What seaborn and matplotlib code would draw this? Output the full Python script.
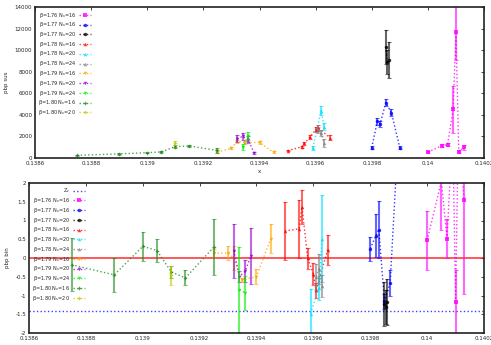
import numpy as np
import pandas as pd
import matplotlib
matplotlib.use("Agg")
import matplotlib.pyplot as plt
import seaborn as sns

# beta=1.76 Ns=16
x_176_16 = [0.14, 0.14005, 0.14007, 0.14009, 0.1401, 0.14011, 0.14013]
sus_176_16 = [535, 1155, 1220, 4500, 11700, 590, 1000]
sus_err_176_16 = [80, 150, 130, 2200, 2600, 150, 250]
bin_176_16 = [0.47, 2.05, 0.52, 3.5, -1.17, 3.5, 1.54]
bin_err_176_16 = [0.78, 1.3, 0.53, 0.5, 0.85, 0.5, 2.5]

# beta=1.77 Ns=16
x_177_16 = [0.1398, 0.13982, 0.13983, 0.13985, 0.13987, 0.1399]
sus_177_16 = [967, 3400, 3160, 5140, 4200, 967]
sus_err_177_16 = [100, 350, 300, 350, 300, 150]
bin_177_16 = [0.25, 0.6, 0.76, -1.15, -0.67, 3.5]
bin_err_177_16 = [0.32, 0.58, 0.75, 0.2, 0.35, 0.5]

# beta=1.77 Ns=20
x_177_20 = [0.13985, 0.139855, 0.13986]
sus_177_20 = [10300, 8900, 9100]
sus_err_177_20 = [1600, 1100, 1700]
bin_177_20 = [-1.22, -1.3, -1.17]
bin_err_177_20 = [0.58, 0.45, 0.62]

# beta=1.78 Ns=16
x_178_16 = [0.1395, 0.13955, 0.13956, 0.13958, 0.1396, 0.13961, 0.13965]
sus_178_16 = [685, 1030, 1360, 1940, 2630, 2790, 1900]
sus_err_178_16 = [80, 120, 150, 200, 250, 300, 250]
bin_178_16 = [0.72, 0.78, 1.36, 0.0, -0.43, -0.86, 0.22]
bin_err_178_16 = [0.78, 0.78, 0.45, 0.28, 0.3, 0.2, 0.4]

# beta=1.78 Ns=20
x_178_20 = [0.13959, 0.13962, 0.13963]
sus_178_20 = [950, 4400, 2900]
sus_err_178_20 = [200, 450, 350]
bin_178_20 = [-1.48, -0.8, 0.52]
bin_err_178_20 = [0.65, 0.32, 1.15]

# beta=1.78 Ns=24
x_178_24 = [0.13961, 0.13962, 0.13963]
sus_178_24 = [2600, 2300, 1400]
sus_err_178_24 = [300, 300, 350]
bin_178_24 = [-0.5, -0.28, -0.75]
bin_err_178_24 = [0.35, 0.4, 0.3]

# beta=1.79 Ns=16
x_179_16 = [0.13925, 0.1393, 0.13932, 0.13935, 0.1394, 0.13945]
sus_179_16 = [535, 911, 1530, 1440, 1440, 535]
sus_err_179_16 = [100, 100, 150, 150, 120, 80]
bin_179_16 = [0.13, 0.13, 0.0, -0.58, -0.5, 0.52]
bin_err_179_16 = [0.1, 0.18, 0.33, 0.05, 0.2, 0.38]

# beta=1.79 Ns=20
x_179_20 = [0.13932, 0.13934, 0.13936, 0.13938]
sus_179_20 = [1800, 2000, 1700, 500]
sus_err_179_20 = [300, 350, 300, 100]
bin_179_20 = [0.2, -0.5, -0.35, 0.05]
bin_err_179_20 = [0.72, 0.15, 0.3, 0.75]

# beta=1.79 Ns=24
x_179_24 = [0.13934, 0.13936]
sus_179_24 = [1000, 2050]
sus_err_179_24 = [300, 350]
bin_179_24 = [-0.85, -0.93]
bin_err_179_24 = [1.15, 0.45]

# beta=1.80 Ns=16
x_180_16 = [0.13875, 0.1389, 0.139, 0.13905, 0.1391, 0.13915, 0.13925]
sus_180_16 = [254, 376, 498, 560, 1061, 1110, 700]
sus_err_180_16 = [60, 60, 70, 70, 100, 100, 200]
bin_180_16 = [-0.18, -0.45, 0.31, 0.2, -0.37, -0.53, 0.29]
bin_err_180_16 = [0.71, 0.46, 0.38, 0.3, 0.15, 0.2, 0.75]

# beta=1.80 Ns=20
x_180_20 = [0.1391]
sus_180_20 = [1380]
sus_err_180_20 = [220]
bin_180_20 = [-0.46]
bin_err_180_20 = [0.25]

z_c = -1.41

labels = ["β=1.76 N$_s$=16", "β=1.77 N$_s$=16", "β=1.77 N$_s$=20", "β=1.78 N$_s$=16",
          "β=1.78 N$_s$=20", "β=1.78 N$_s$=24", "β=1.79 N$_s$=16", "β=1.79 N$_s$=20",
          "β=1.79 N$_s$=24", "β=1.80 N$_s$=16", "β=1.80 N$_s$=20"]
colors = ["#ff00ff", "#0000ff", "#000000", "#ff0000", "#00e0ff", "#808080",
          "#ffa500", "#9400d3", "#00ee00", "#228b22", "#c8c800"]
markers = ["s", "o", "o", "^", "^", "^", "v", "v", "v", "P", "P"]

xs = [x_176_16, x_177_16, x_177_20, x_178_16, x_178_20, x_178_24, x_179_16, x_179_20, x_179_24, x_180_16, x_180_20]
sus = [sus_176_16, sus_177_16, sus_177_20, sus_178_16, sus_178_20, sus_178_24, sus_179_16, sus_179_20, sus_179_24, sus_180_16, sus_180_20]
sus_err = [sus_err_176_16, sus_err_177_16, sus_err_177_20, sus_err_178_16, sus_err_178_20, sus_err_178_24,
           sus_err_179_16, sus_err_179_20, sus_err_179_24, sus_err_180_16, sus_err_180_20]
bins = [bin_176_16, bin_177_16, bin_177_20, bin_178_16, bin_178_20, bin_178_24, bin_179_16, bin_179_20, bin_179_24, bin_180_16, bin_180_20]
bin_err = [bin_err_176_16, bin_err_177_16, bin_err_177_20, bin_err_178_16, bin_err_178_20, bin_err_178_24,
           bin_err_179_16, bin_err_179_20, bin_err_179_24, bin_err_180_16, bin_err_180_20]

sns.set_style("white")
plt.rcParams['font.family'] = ['DejaVu Sans']
plt.rcParams['xtick.direction'] = 'in'
plt.rcParams['ytick.direction'] = 'in'

fig = plt.figure(figsize=(4.91, 3.45), dpi=100)
ax1 = fig.add_axes([35/491, 1-158/345, 449/491, 151/345])
ax2 = fig.add_axes([29/491, 1-333/345, 455/491, 150/345])

xticks = [0.1386, 0.1388, 0.139, 0.1392, 0.1394, 0.1396, 0.1398, 0.14, 0.1402]


def draw(ax, ys, errs):
    for i in range(len(labels)):
        df = pd.DataFrame({"x": xs[i], "y": ys[i]})
        sns.lineplot(data=df, x="x", y="y", ax=ax, color=colors[i], linestyle=":", lw=1.0,
                     marker=markers[i], markersize=2.5, markeredgewidth=0, alpha=0.8, label=labels[i])
        ax.errorbar(xs[i], ys[i], yerr=errs[i], fmt="none", ecolor=colors[i], elinewidth=1.5,
                    capsize=1.2, capthick=0.8, alpha=0.6)


# top panel
draw(ax1, sus, sus_err)
ax1.set_xlim(0.1386, 0.1402)
ax1.set_ylim(0, 14000)
ax1.set_yticks(range(0, 14001, 2000))
ax1.set_xticks(xticks)
ax1.set_xticklabels(["%g" % t for t in xticks])
ax1.set_xlabel("x", fontsize=4, labelpad=2)
ax1.set_ylabel("pbp sus", fontsize=4, labelpad=4)

# bottom panel
ax2.axhline(0, color="#ff0000", lw=1.3, alpha=0.7)
ax2.axhline(z_c, color="#4040ff", lw=1.0, linestyle=":", label="Z$_c$")
draw(ax2, bins, bin_err)
ax2.set_xlim(0.1386, 0.1402)
ax2.set_ylim(-2, 2)
ax2.set_yticks([-2, -1.5, -1, -0.5, 0, 0.5, 1, 1.5, 2])
ax2.set_yticklabels(["%g" % t for t in [-2, -1.5, -1, -0.5, 0, 0.5, 1, 1.5, 2]])
ax2.set_xticks(xticks)
ax2.set_xticklabels(["%g" % t for t in xticks])
ax2.set_xlabel("x", fontsize=4, labelpad=2)
ax2.set_ylabel("pbp bin", fontsize=4, labelpad=4)

for ax in [ax1, ax2]:
    ax.tick_params(labelsize=4, length=2, width=0.6, top=True, right=True, pad=2)
    for s in ax.spines.values():
        s.set_linewidth(1.2)
        s.set_color("#222222")
    ax.legend(loc="upper left", fontsize=3.6, markerfirst=False, frameon=False, handlelength=2.5,
              labelspacing=0.15, borderaxespad=0.3, handletextpad=0.5)

# the bottom one has the Z_c line first, that is already the case since it was drawn first
fig.savefig("out.png", dpi=100)
